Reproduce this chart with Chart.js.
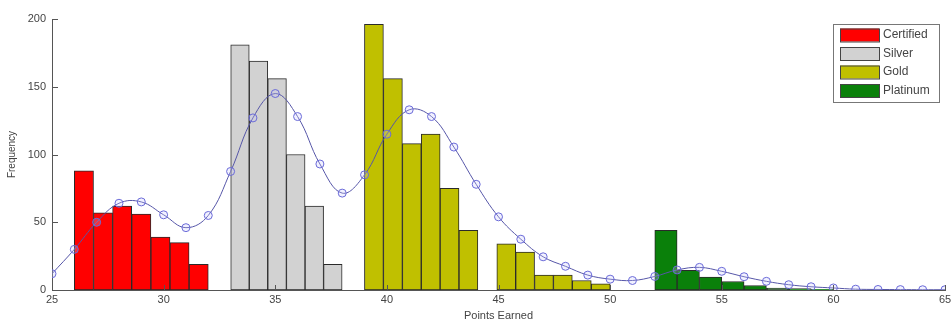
<!DOCTYPE html>
<html>
<head>
<meta charset="utf-8">
<script src="https://cdn.jsdelivr.net/npm/chart.js@4.4.0/dist/chart.umd.min.js"></script>
<style>
  html, body { margin: 0; padding: 0; background: #fff; }
  #wrap { width: 951px; height: 329px; }
</style>
</head>
<body>
<div id="wrap"><canvas id="histChart"></canvas></div>
<script>
// Histogram bin centres and counts, one set per level
const certifiedBins = [26.43, 27.29, 28.14, 29.0, 29.86, 30.71, 31.57];
const certifiedCounts = [88, 57, 62, 56, 39, 35, 19];

const silverBins = [33.42, 34.25, 35.08, 35.92, 36.75, 37.58];
const silverCounts = [181, 169, 156, 100, 62, 19];

const goldBins = [39.42, 40.27, 41.12, 41.96, 42.81, 43.65, 44.5, 45.35, 46.19, 47.04, 47.88, 48.73, 49.58];
const goldCounts = [196, 156, 108, 115, 75, 44, 0, 34, 28, 11, 11, 7, 4.5];

const platinumBins = [52.5, 53.5, 54.5, 55.5, 56.5, 57.5, 58.5, 59.5];
const platinumCounts = [44, 14.5, 9.5, 6.3, 3.3, 1.5, 1, 0.5];

// Smoothed distribution curve
const curvePoints = [25, 26, 27, 28, 29, 30, 31, 32, 33, 34, 35, 36, 37, 38, 39, 40, 41, 42, 43, 44, 45,
  46, 47, 48, 49, 50, 51, 52, 53, 54, 55, 56, 57, 58, 59, 60, 61, 62, 63, 64, 65];
const curveValues = [12, 30, 50, 64, 65, 55.5, 46, 55, 87.5, 127, 145, 128, 93, 71.5, 85, 115, 133, 128, 105.5, 78, 54,
  37.5, 24.5, 17.5, 11, 8, 7, 10, 14.8, 16.7, 13.8, 9.8, 6.4, 3.9, 2.4, 1.5, 0.6, 0.4, 0.3, 0.2, 0.2];

const xTicks = [25, 30, 35, 40, 45, 50, 55, 60, 65];
const yTicks = [0, 50, 100, 150, 200];

function pairs(xs, ys) {
  return xs.map((x, i) => ({ x: x, y: ys[i] }));
}

function barSet(label, xs, ys, color) {
  return {
    type: 'bar',
    label: label,
    data: pairs(xs, ys),
    backgroundColor: color,
    borderColor: '#2a2a2a',
    borderWidth: 1,
    borderSkipped: false,
    barThickness: 'flex',
    barPercentage: 1,
    categoryPercentage: 1,
    stack: 'hist',
    order: 1
  };
}

const font = { family: '"Liberation Sans", Arial, sans-serif', size: 11 };

// Inward tick marks, MATLAB style
const innerTicks = {
  id: 'innerTicks',
  afterDraw(chart) {
    const c = chart.ctx, x = chart.scales.x, y = chart.scales.y;
    c.save();
    c.strokeStyle = '#555';
    c.lineWidth = 1;
    c.beginPath();
    xTicks.forEach(v => {
      const px = Math.round(x.getPixelForValue(v)) + 0.5;
      c.moveTo(px, y.bottom);
      c.lineTo(px, y.bottom - 5);
    });
    yTicks.forEach(v => {
      const py = Math.round(y.getPixelForValue(v)) + 0.5;
      c.moveTo(x.left, py);
      c.lineTo(x.left + 6, py);
    });
    c.stroke();
    c.restore();
  }
};

// Boxed legend in the upper right of the plot
const boxLegend = {
  id: 'boxLegend',
  afterDraw(chart) {
    const c = chart.ctx;
    const sets = chart.data.datasets.filter(d => d.type === 'bar');
    const left = chart.chartArea.right - 112, top = chart.chartArea.top + 5;
    const w = 106, rowH = 18.5, h = sets.length * rowH + 4;
    c.save();
    c.fillStyle = '#fff';
    c.fillRect(left, top, w, h);
    c.strokeStyle = '#777';
    c.lineWidth = 1;
    c.strokeRect(left + 0.5, top + 0.5, w, h);
    c.font = '12px "Liberation Sans", Arial, sans-serif';
    c.textBaseline = 'middle';
    sets.forEach((d, i) => {
      const cy = top + 11 + i * rowH;
      c.fillStyle = d.backgroundColor;
      c.fillRect(left + 7, cy - 6.5, 39, 13);
      c.strokeStyle = '#444';
      c.strokeRect(left + 7.5, cy - 6, 39, 13);
      c.fillStyle = '#444';
      c.fillText(d.label, left + 50, cy);
    });
    c.restore();
  }
};

const ctx = document.getElementById('histChart').getContext('2d');
new Chart(ctx, {
  type: 'bar',
  data: {
    datasets: [
      {
        type: 'line',
        label: 'Distribution',
        data: pairs(curvePoints, curveValues),
        borderColor: '#5656a8',
        borderWidth: 1,
        tension: 0.4,
        pointRadius: 4,
        pointBorderColor: '#6a6ad8',
        pointBackgroundColor: 'rgba(200,200,255,0.25)',
        pointBorderWidth: 1,
        order: 0
      },
      barSet('Certified', certifiedBins, certifiedCounts, '#ff0000'),
      barSet('Silver', silverBins, silverCounts, '#d2d2d2'),
      barSet('Gold', goldBins, goldCounts, '#c0c000'),
      barSet('Platinum', platinumBins, platinumCounts, '#0a800a')
    ]
  },
  options: {
    responsive: true,
    maintainAspectRatio: false,
    animation: false,
    layout: { padding: { top: 19, right: 6, left: 0, bottom: 0 } },
    plugins: {
      legend: { display: false },
      tooltip: { enabled: false }
    },
    scales: {
      x: {
        type: 'linear',
        min: 25,
        max: 65,
        offset: false,
        afterBuildTicks: s => { s.ticks = xTicks.map(v => ({ value: v })); },
        afterFit: s => { s.height = 39; s.paddingLeft = 0; s.paddingRight = 0; },
        grid: { display: false, drawTicks: false },
        border: { display: true, color: '#555' },
        ticks: { font: font, color: '#444', padding: 3, maxRotation: 0 },
        title: { display: true, text: 'Points Earned', font: font, color: '#444', padding: { top: 0, bottom: 6 } }
      },
      y: {
        min: 0,
        max: 200,
        stacked: false,
        afterBuildTicks: s => { s.ticks = yTicks.map(v => ({ value: v })); },
        afterFit: s => { s.width = 52; },
        grid: { display: false, drawTicks: false },
        border: { display: true, color: '#555' },
        ticks: { font: font, color: '#444', padding: 6 },
        title: { display: true, text: 'Frequency', font: { family: font.family, size: 10 }, color: '#444', padding: { top: 6, bottom: 4 } }
      }
    }
  },
  plugins: [innerTicks, boxLegend]
});
</script>
</body>
</html>
